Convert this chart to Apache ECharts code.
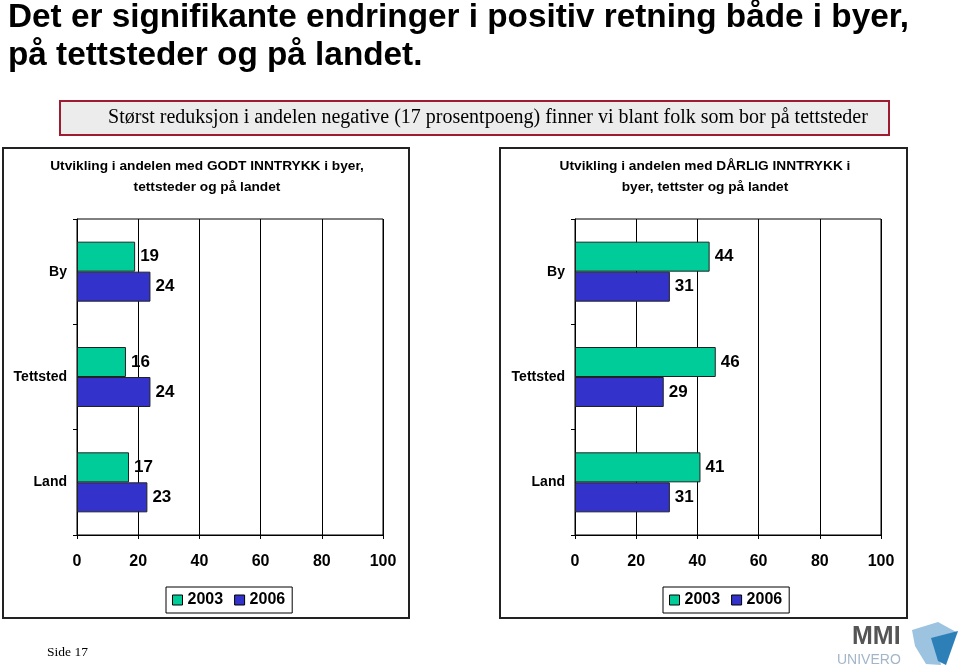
<!DOCTYPE html>
<html>
<head>
<meta charset="utf-8">
<style>
  html, body { margin: 0; padding: 0; background: #fff; }
  #chart { width: 960px; height: 666px; }
</style>
<script src="https://cdn.jsdelivr.net/npm/echarts@6/dist/echarts.min.js"></script>
</head>
<body>
<div id="chart"></div>
<script>
// ---- data ----
const categories = ['By', 'Tettsted', 'Land'];
const seriesNames = ['2003', '2006'];
const good2003 = [19, 16, 17];
const good2006 = [24, 24, 23];
const bad2003 = [44, 46, 41];
const bad2006 = [31, 29, 31];
const xTickLabels = [0, 20, 40, 60, 80, 100];

const mainTitle = ['Det er signifikante endringer i positiv retning både i byer,', 'på tettsteder og på landet.'];
const subTitle = 'Størst reduksjon i andelen negative (17 prosentpoeng) finner vi blant folk som bor på tettsteder';
const leftTitle = ['Utvikling i andelen med GODT INNTRYKK i byer,', 'tettsteder og på landet'];
const rightTitle = ['Utvikling i andelen med DÅRLIG INNTRYKK i', 'byer, tettster og på landet'];
const pageLabel = 'Side 17';

const GREEN = '#00cc99';
const BLUE = '#3333cc';
const FONT = '"Liberation Sans", Arial, sans-serif';
const SERIF = '"Liberation Serif", "Times New Roman", serif';

const chart = echarts.init(document.getElementById('chart'), null, { renderer: 'canvas' });

function xAxisCfg(gi) {
  return {
    type: 'value', gridIndex: gi,
    min: xTickLabels[0], max: xTickLabels[xTickLabels.length - 1],
    interval: xTickLabels[1] - xTickLabels[0],
    axisLine: { show: true, lineStyle: { color: '#000', width: 1 } },
    axisTick: { show: true, length: 4, lineStyle: { color: '#000' } },
    splitLine: { show: true, lineStyle: { color: '#000', width: 1 } },
    axisLabel: { color: '#000', fontFamily: FONT, fontWeight: 'bold', fontSize: 16, margin: 19 }
  };
}
function yAxisCfg(gi) {
  return {
    type: 'category', gridIndex: gi, data: categories, inverse: true,
    axisLine: { show: true, lineStyle: { color: '#000', width: 1 } },
    axisTick: { show: true, length: 4, lineStyle: { color: '#000' } },
    axisLabel: { color: '#000', fontFamily: FONT, fontWeight: 'bold', fontSize: 14, margin: 10 },
    splitLine: { show: false }
  };
}
function barSeries(name, data, color, gi) {
  return {
    name: name, type: 'bar', xAxisIndex: gi, yAxisIndex: gi, data: data,
    barWidth: 30, barGap: '0%',
    itemStyle: { color: color, borderColor: '#222', borderWidth: 1 },
    label: { show: true, position: 'right', distance: 5, color: '#000',
             fontFamily: FONT, fontWeight: 'bold', fontSize: 17 },
    emphasis: { disabled: true },
    animation: false
  };
}
function legendCfg(left) {
  return {
    left: left, top: 587, orient: 'horizontal',
    data: seriesNames,
    icon: 'rect', itemWidth: 10, itemHeight: 10, itemGap: 11,
    borderColor: '#000', borderWidth: 1, padding: [5, 7, 5, 6],
    backgroundColor: '#fff',
    selectedMode: false,
    itemStyle: { borderColor: '#000', borderWidth: 1 },
    textStyle: { color: '#000', fontFamily: FONT, fontWeight: 'bold', fontSize: 16 }
  };
}
function textEl(x, y, text, opts) {
  return {
    type: 'text', x: x, y: y, silent: true,
    style: Object.assign({ text: text, fill: '#000', font: 'bold 14px ' + FONT,
                           textAlign: 'left', textVerticalAlign: 'middle' }, opts || {})
  };
}

const option = {
  backgroundColor: '#ffffff',
  animation: false,
  grid: [
    { left: 77, top: 219, width: 306, height: 316, show: true, borderColor: '#000', borderWidth: 1, backgroundColor: 'transparent' },
    { left: 575, top: 219, width: 306, height: 316, show: true, borderColor: '#000', borderWidth: 1, backgroundColor: 'transparent' }
  ],
  xAxis: [xAxisCfg(0), xAxisCfg(1)],
  yAxis: [yAxisCfg(0), yAxisCfg(1)],
  legend: [legendCfg(166), legendCfg(663)],
  series: [
    barSeries(seriesNames[0], good2003, GREEN, 0),
    barSeries(seriesNames[1], good2006, BLUE, 0),
    barSeries(seriesNames[0], bad2003, GREEN, 1),
    barSeries(seriesNames[1], bad2006, BLUE, 1)
  ],
  graphic: [
    // main title
    textEl(8, 18, mainTitle[0], { font: 'bold 33.3px ' + FONT }),
    textEl(8, 56, mainTitle[1], { font: 'bold 33.3px ' + FONT }),
    // subtitle box
    { type: 'rect', silent: true, z: 0, shape: { x: 60, y: 101, width: 829, height: 34 },
      style: { fill: '#ececec', stroke: '#9e1b32', lineWidth: 2 } },
    textEl(488, 118, subTitle, { font: '20px ' + SERIF, textAlign: 'center' }),
    // panel borders
    { type: 'rect', silent: true, z: 0, shape: { x: 3, y: 148, width: 406, height: 470 },
      style: { fill: 'none', stroke: '#222', lineWidth: 2 } },
    { type: 'rect', silent: true, z: 0, shape: { x: 500, y: 148, width: 407, height: 470 },
      style: { fill: 'none', stroke: '#222', lineWidth: 2 } },
    // panel titles
    textEl(207, 166, leftTitle[0], { font: 'bold 13.7px ' + FONT, textAlign: 'center' }),
    textEl(207, 187, leftTitle[1], { font: 'bold 13.7px ' + FONT, textAlign: 'center' }),
    textEl(705, 166, rightTitle[0], { font: 'bold 13.7px ' + FONT, textAlign: 'center' }),
    textEl(705, 187, rightTitle[1], { font: 'bold 13.7px ' + FONT, textAlign: 'center' }),
    // page label
    textEl(47, 652, pageLabel, { font: '13.5px ' + SERIF }),
    // logo
    textEl(852, 637, 'MMI', { font: 'bold 25px ' + FONT, fill: '#555555' }),
    textEl(837, 660, 'UNIVERO', { font: '14px ' + FONT, fill: '#a3b6c9' }),
    { type: 'polygon', silent: true, shape: { points: [[912, 630], [938, 622], [958, 633], [936, 641], [941, 665], [926, 664], [915, 646]] },
      style: { fill: '#9cc3e0' } },
    { type: 'polygon', silent: true, shape: { points: [[931, 638], [958, 631], [946, 665], [938, 661]] },
      style: { fill: '#2d7fb8' } }
  ]
};
chart.setOption(option);
</script>
</body>
</html>
